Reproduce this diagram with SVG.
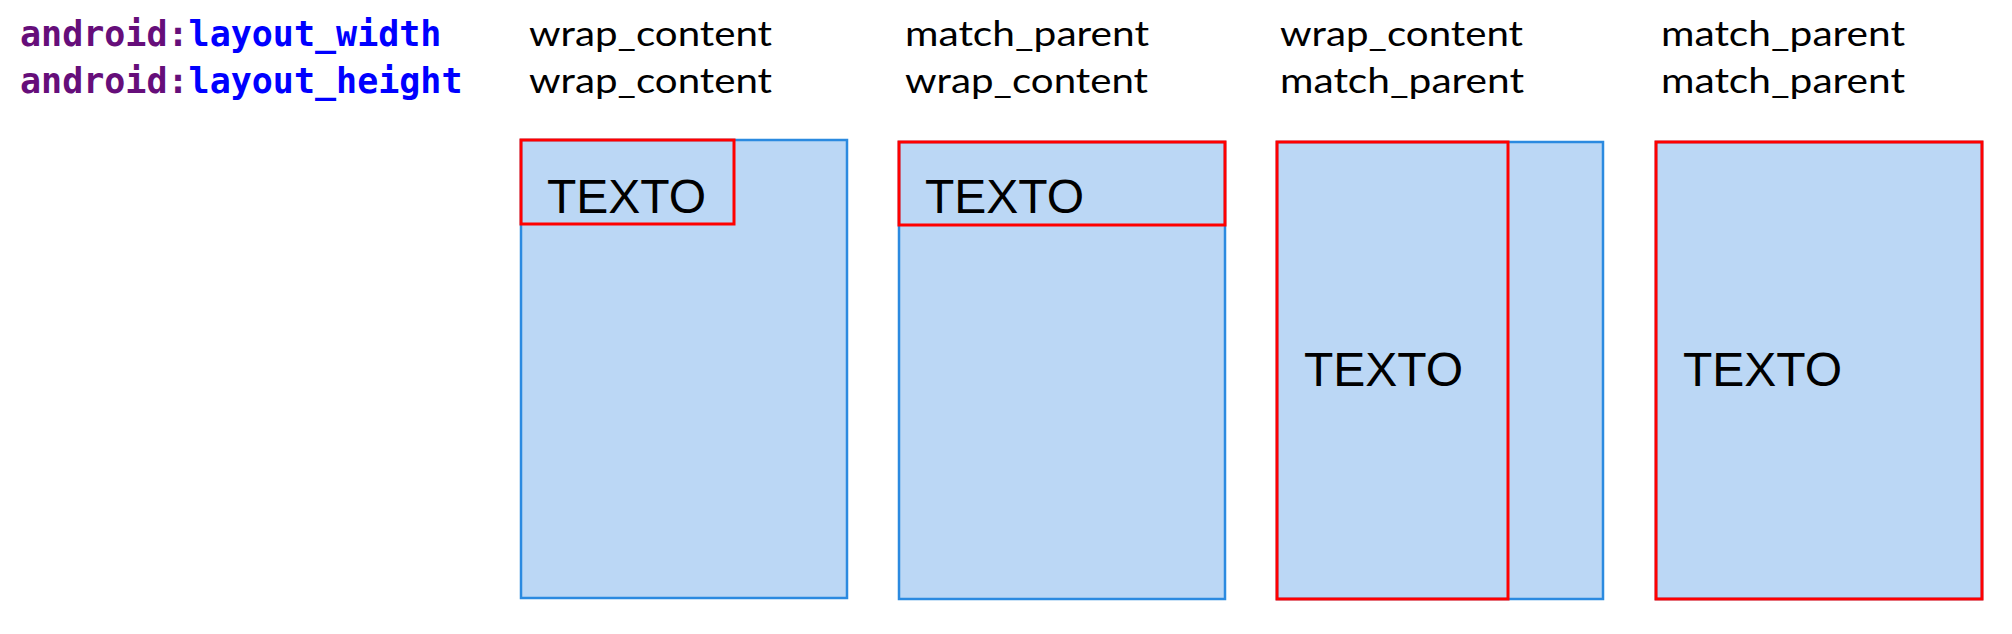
<svg xmlns="http://www.w3.org/2000/svg" width="2012" height="634" viewBox="0 0 2012 634">
<style>
.attr{font-family:"DejaVu Sans Mono","Liberation Mono",monospace;font-size:35px;font-weight:bold}
.ns{fill:#660e7a}
.nm{fill:#0000ff}
.val{font-family:Lato,"Open Sans",sans-serif;font-size:35px;fill:#000}
.parent{fill:#bbd7f5;stroke:#2b8ae0;stroke-width:2.5}
.child{fill:none;stroke:#ff0000;stroke-width:3}
.txt{font-family:"Liberation Sans",Arial,sans-serif;font-size:48px;fill:#000}
</style>
<g id="labels">
<text class="attr" x="20" y="46"><tspan class="ns">android:</tspan><tspan class="nm">layout_width</tspan></text>
<text class="attr" x="20" y="93"><tspan class="ns">android:</tspan><tspan class="nm">layout_height</tspan></text>
</g>
<g id="col1-header">
<text class="val" x="529" y="46" textLength="243" lengthAdjust="spacingAndGlyphs">wrap_content</text>
<text class="val" x="529" y="93" textLength="243" lengthAdjust="spacingAndGlyphs">wrap_content</text>
</g>
<g id="col2-header">
<text class="val" x="905" y="46" textLength="244" lengthAdjust="spacingAndGlyphs">match_parent</text>
<text class="val" x="905" y="93" textLength="243" lengthAdjust="spacingAndGlyphs">wrap_content</text>
</g>
<g id="col3-header">
<text class="val" x="1280" y="46" textLength="243" lengthAdjust="spacingAndGlyphs">wrap_content</text>
<text class="val" x="1280" y="93" textLength="244" lengthAdjust="spacingAndGlyphs">match_parent</text>
</g>
<g id="col4-header">
<text class="val" x="1661" y="46" textLength="244" lengthAdjust="spacingAndGlyphs">match_parent</text>
<text class="val" x="1661" y="93" textLength="244" lengthAdjust="spacingAndGlyphs">match_parent</text>
</g>
<g id="box1">
<rect class="parent" x="521" y="140" width="326" height="458"/>
<rect class="child" x="521" y="140" width="213" height="84"/>
<text class="txt" x="547" y="213">TEXTO</text>
</g>
<g id="box2">
<rect class="parent" x="899" y="142" width="326" height="457"/>
<rect class="child" x="899" y="142" width="326" height="83"/>
<text class="txt" x="925" y="213">TEXTO</text>
</g>
<g id="box3">
<rect class="parent" x="1277" y="142" width="326" height="457"/>
<rect class="child" x="1277" y="142" width="231" height="457"/>
<text class="txt" x="1304" y="386">TEXTO</text>
</g>
<g id="box4">
<rect class="parent" x="1656" y="142" width="326" height="457"/>
<rect class="child" x="1656" y="142" width="326" height="457"/>
<text class="txt" x="1683" y="386">TEXTO</text>
</g>
<g id="connectors"/>
</svg>
